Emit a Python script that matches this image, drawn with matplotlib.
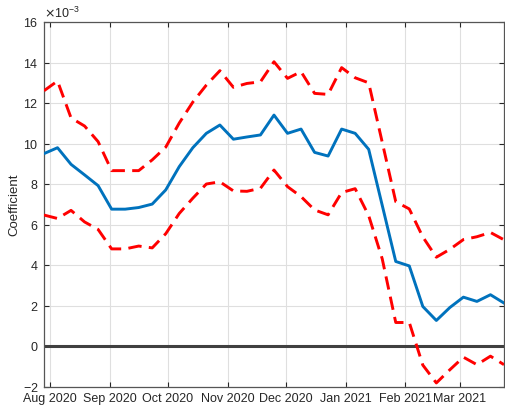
import numpy as np
import pandas as pd
import matplotlib
matplotlib.use('Agg')
import matplotlib.pyplot as plt
import matplotlib.dates as mdates

plt.rcParams['font.family'] = ['Liberation Sans', 'DejaVu Sans']
plt.rcParams['axes.unicode_minus'] = False

# weekly estimates, coefficient in units of 1e-3
weeks = pd.date_range('2020-07-29', periods=35, freq='7D')
coef = [9.51, 9.80, 8.98, 8.46, 7.93, 6.77, 6.77, 6.85, 7.02, 7.72,
        8.87, 9.80, 10.51, 10.92, 10.22, 10.33, 10.43, 11.41, 10.51, 10.72,
        9.57, 9.39, 10.72, 10.51, 9.72, 6.96, 4.19, 3.97, 1.97, 1.28,
        1.92, 2.43, 2.22, 2.55, 2.14]
upper = [12.61, 13.09, 11.27, 10.87, 10.10, 8.67, 8.67, 8.67, 9.20, 9.83,
         11.02, 12.05, 12.89, 13.60, 12.78, 12.97, 13.05, 14.04, 13.22, 13.55,
         12.48, 12.43, 13.75, 13.25, 13.00, 10.07, 7.14, 6.78, 5.40, 4.40,
         4.79, 5.27, 5.41, 5.62, 5.26]
lower = [6.48, 6.31, 6.71, 6.14, 5.77, 4.81, 4.81, 4.95, 4.86, 5.56,
         6.56, 7.31, 8.01, 8.12, 7.67, 7.65, 7.80, 8.70, 7.88, 7.39,
         6.73, 6.49, 7.59, 7.78, 6.45, 4.32, 1.18, 1.18, -0.92, -1.80,
         -1.15, -0.53, -0.90, -0.48, -0.90]
scale = 1e-3

ax_color = '#262626'
fig = plt.figure(figsize=(5.05, 4.13), dpi=100)
ax = fig.add_axes([0.0871, 0.063, 0.9109, 0.8837])

ax.axhline(0, color='#404040', lw=2.2, zorder=2)
ax.plot(weeks, np.array(upper) * scale, color='red', lw=2.1, dashes=(4.6, 2.5), zorder=3)
ax.plot(weeks, np.array(lower) * scale, color='red', lw=2.1, dashes=(4.6, 2.5), zorder=3)
ax.plot(weeks, np.array(coef) * scale, color='#0072bd', lw=2.1, zorder=4)

ax.set_xlim(weeks[0], weeks[-1])
ax.set_ylim(-2e-3, 16e-3)
ax.set_yticks(np.arange(-2, 17, 2) * scale)
ax.xaxis.set_major_locator(mdates.MonthLocator())
ax.xaxis.set_major_formatter(mdates.DateFormatter('%b %Y'))
# fixed exponent shown above the axis
ax.ticklabel_format(axis='y', style='sci', scilimits=(-3, -3), useMathText=True)

ax.grid(True, color='#dfdfdf', lw=0.8)
ax.set_axisbelow(True)
ax.tick_params(direction='in', length=3.5, width=0.8, colors=ax_color,
               labelsize=9, top=True, right=True, pad=4)
for s in ax.spines.values():
    s.set_color('#555555')
    s.set_linewidth(0.9)
ax.yaxis.get_offset_text().set_fontsize(9)
ax.yaxis.get_offset_text().set_color(ax_color)
ax.set_ylabel('Coefficient', fontsize=9.5, color=ax_color, labelpad=1.5)

fig.savefig('out.png', dpi=100)
